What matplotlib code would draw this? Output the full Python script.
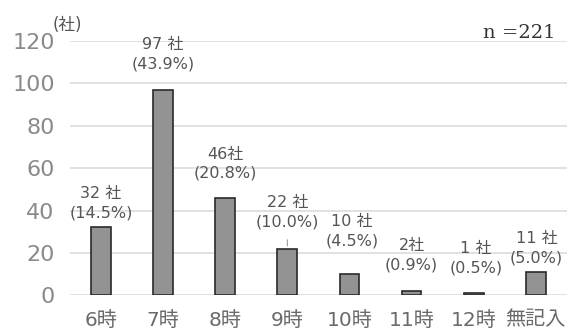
import matplotlib
matplotlib.use("Agg")
import matplotlib.pyplot as plt

plt.rcParams['font.family'] = ['DejaVu Sans', 'Noto Sans CJK JP']

categories = ["6時", "7時", "8時", "9時", "10時", "11時", "12時", "無記入"]
counts = [32, 97, 46, 22, 10, 2, 1, 11]
percents = ["14.5", "43.9", "20.8", "10.0", "4.5", "0.9", "0.5", "5.0"]
yticks = [0, 20, 40, 60, 80, 100, 120]
total_n = 221

# label offsets (points) from each bar top to the centre of its label
label_dx = [0, 0, 0, 0, 2, 0, 1.5, 0.5]
label_dy = [17.3, 25.6, 24.5, 26.3, 31, 26, 25.2, 17.3]
# separator between count and unit
label_sep = [" ", " ", "", " ", " ", "", " ", " "]

fig = plt.figure(figsize=(5.71, 3.31), dpi=100)
ax = fig.add_axes([0.1226, 0.108, 0.870, 0.768])

x = list(range(len(categories)))
ax.bar(x, counts, width=0.32, color="#939393", edgecolor="#2a2a2a", linewidth=1.2, zorder=3)

ax.set_ylim(0, 120)
ax.set_xlim(-0.5, len(categories) - 0.5)
ax.set_yticks(yticks)
ax.set_yticklabels([str(t) for t in yticks], fontsize=16, color="#8a8a8a")
ax.set_xticks(x)
ax.set_xticklabels(categories, fontsize=14.5, color="#6a6a6a")
ax.tick_params(length=0)
ax.tick_params(axis='x', pad=11)
ax.tick_params(axis='y', pad=11)
ax.grid(axis='y', color="#dedede", linewidth=1.3, zorder=0)
for s in ax.spines.values():
    s.set_visible(False)

label_style = dict(textcoords="offset points", ha="center", va="center",
                   fontsize=11.5, linespacing=1.35)
for i, (c, p) in enumerate(zip(counts, percents)):
    txt = f"{c}{label_sep[i]}社\n({p}%)"
    # white backing that masks the grid lines behind the label
    ax.annotate(txt, xy=(i, c), xytext=(label_dx[i], label_dy[i]), color="none",
                zorder=1, bbox=dict(facecolor="white", edgecolor="none", pad=0.3),
                **label_style)
    ax.annotate(txt, xy=(i, c), xytext=(label_dx[i], label_dy[i]), color="#555555",
                zorder=5, **label_style)

# short leader line from the 9時 label to its bar
ax.annotate("", xy=(3, counts[3]), xytext=(3, counts[3] + 5.5),
            arrowprops=dict(arrowstyle="-", color="#999999", lw=0.8), zorder=2)

fig.text(0.093, 0.924, "(社)", fontsize=12, color="#555555", ha="left", va="center")
ax.text(0.978, 1.012, f"n ={total_n}", transform=ax.transAxes, ha="right", va="baseline",
        fontsize=14, color="#333333", family="DejaVu Serif")

fig.savefig("out.png", dpi=100, facecolor="white")
